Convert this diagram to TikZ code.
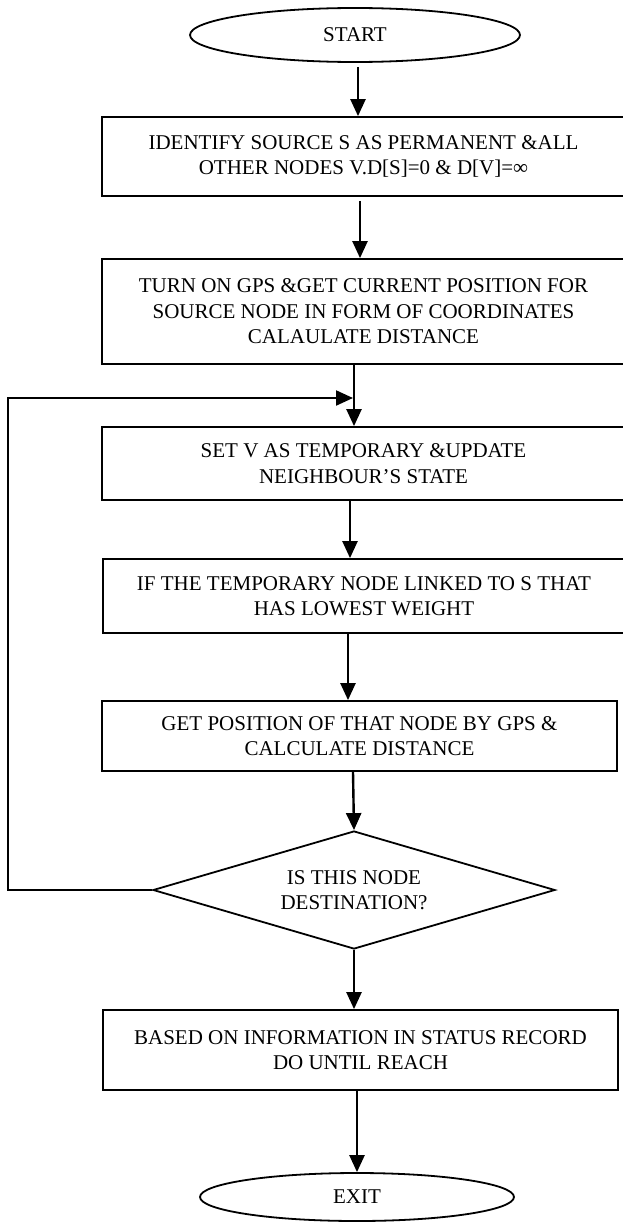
\documentclass[tikz,border=0pt]{standalone}
\usepackage{fontspec}
\setmainfont{Liberation Serif}
\usetikzlibrary{shapes.geometric,arrows.meta,calc}
\begin{document}
\begin{tikzpicture}[x=1pt,y=-1pt,
  every node/.style={font=\fontsize{21}{25.5}\selectfont, align=center},
  procbox/.style={draw, line width=1.8pt, inner sep=0pt},
  term/.style={draw, ellipse, line width=1.8pt, inner sep=0pt},
  decision/.style={draw, diamond, aspect=3.4, line width=1.8pt, inner sep=0pt},
  arr/.style={line width=2.4pt, -{Triangle[length=17pt,width=15pt]}},
  loopline/.style={line width=2.2pt, -{Triangle[length=17pt,width=15pt]}}]
\useasboundingbox (0,0) rectangle (623,1223);

\node[term, minimum width=330pt, minimum height=54pt] (start) at (355,35) {START};
\node[procbox, minimum width=523pt, minimum height=79pt] (b1) at (363.5,156.5)
  {IDENTIFY SOURCE S AS PERMANENT \&ALL\\OTHER NODES V.D[S]=0 \& D[V]=∞};
\node[procbox, minimum width=523pt, minimum height=105pt] (b2) at (363.5,311.5)
  {TURN ON GPS \&GET CURRENT POSITION FOR\\SOURCE NODE IN FORM OF COORDINATES\\CALAULATE DISTANCE};
\node[procbox, minimum width=523pt, minimum height=73pt] (b3) at (363.5,463.5)
  {SET V AS TEMPORARY \&UPDATE\\NEIGHBOUR’S STATE};
\node[procbox, minimum width=522pt, minimum height=74pt] (b4) at (364,596)
  {IF THE TEMPORARY NODE LINKED TO S THAT\\HAS LOWEST WEIGHT};
\node[procbox, minimum width=515pt, minimum height=70pt] (b5) at (359.5,736)
  {GET POSITION OF THAT NODE BY GPS \&\\CALCULATE DISTANCE};
\node[decision, minimum width=402pt, minimum height=118pt] (dia) at (354,890)
  {IS THIS NODE\\DESTINATION?};
\node[procbox, minimum width=515pt, minimum height=80pt] (b6) at (360.5,1050)
  {BASED ON INFORMATION IN STATUS RECORD\\DO UNTIL REACH};
\node[term, minimum width=314pt, minimum height=48pt] (exit) at (357,1197) {EXIT};

\draw[arr] ([xshift=3pt,yshift=-4pt]start.south) -- ([xshift=3pt]start.south |- b1.north);
\draw[arr] ([xshift=-3.5pt,yshift=-4pt]b1.south) -- ([xshift=-3.5pt]b1.south |- b2.north);
\draw[arr] ([xshift=-9.5pt]b2.south) -- ([xshift=-9.5pt]b2.south |- b3.north);
\draw[arr] ([xshift=-13.5pt]b3.south) -- ([xshift=-13.5pt]b3.south |- b4.north);
\draw[arr] ([xshift=-16pt]b4.south) -- ([xshift=-16pt]b4.south |- b5.north);
\draw[arr] ([xshift=-6.5pt]b5.south) -- (dia.north);
\draw[arr] (dia.south) -- (dia.south |- b6.north);
\draw[arr] ([xshift=-3.5pt]b6.south) -- ([xshift=-3.5pt]b6.south |- exit.north);

\coordinate (L) at (8,890);
\coordinate (J) at (353,398);
\draw[loopline] (dia.west) -- (L) |- (J);
\end{tikzpicture}
\end{document}
